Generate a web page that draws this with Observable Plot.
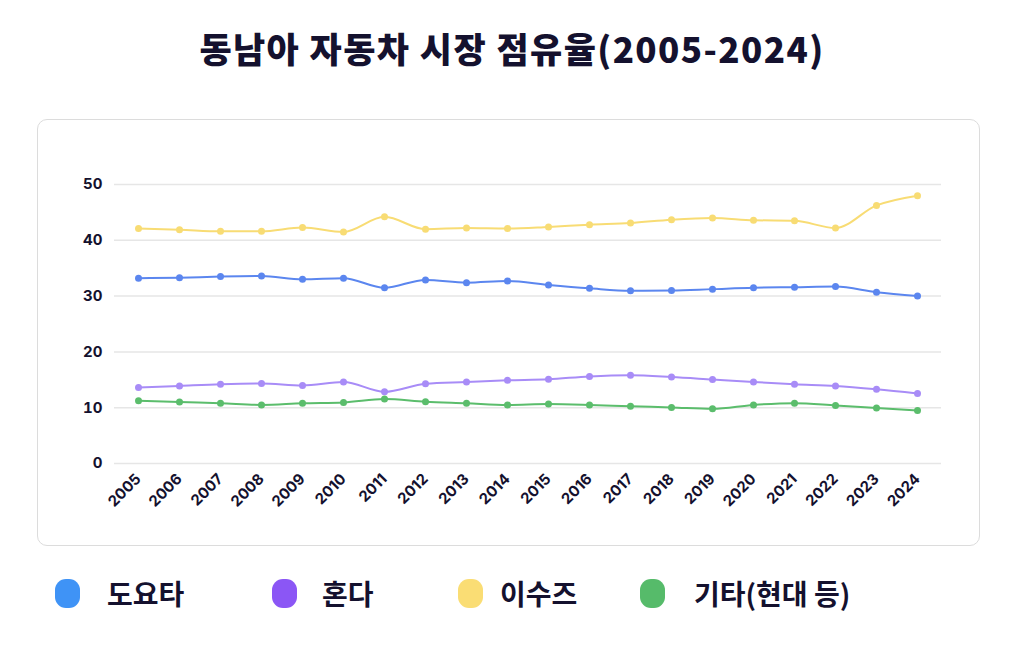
<!DOCTYPE html>
<html>
<head>
<meta charset="utf-8">
<script src="https://cdn.jsdelivr.net/npm/d3@7"></script>
<script src="https://cdn.jsdelivr.net/npm/@observablehq/plot@0.6"></script>
<style>
  html, body { margin: 0; padding: 0; background: #fff; }
  body { width: 1024px; height: 648px; position: relative; overflow: hidden;
         font-family: "Noto Sans CJK KR", "Noto Sans", sans-serif; color: #14112e; }
  #title { position: absolute; top: 23px; left: 0; width: 1024px; text-align: center;
           font-size: 35px; font-weight: 800; letter-spacing: 1.4px; line-height: 50px; }
  #card { position: absolute; left: 37px; top: 119px; width: 941px; height: 425px;
          border: 1.5px solid #dcdcdc; border-radius: 10px; background: #fff; }
  #card svg { position: absolute; left: 0; top: 0; }
  #legend { position: absolute; top: 574px; left: 0; width: 1024px; height: 38px; }
  .item { position: absolute; top: 0; display: flex; align-items: center; height: 38px;
          font-size: 28px; font-weight: 700; }
  .sw { width: 25px; height: 29px; border-radius: 11px; display: inline-block; }
</style>
</head>
<body>
<div id="title">동남아 자동차 시장 점유율(2005-2024)</div>
<div id="card"></div>
<div id="legend"></div>
<script>
const years = ["2005","2006","2007","2008","2009","2010","2011","2012","2013","2014",
               "2015","2016","2017","2018","2019","2020","2021","2022","2023","2024"];
const toyota = [33.2,33.3,33.5,33.6,33.0,33.2,31.5,32.9,32.4,32.7,32.0,31.4,30.95,31.0,31.25,31.5,31.6,31.7,30.7,30.0];
const honda  = [13.6,13.9,14.2,14.35,14.0,14.6,12.85,14.3,14.6,14.9,15.1,15.6,15.8,15.5,15.05,14.6,14.2,13.9,13.3,12.55];
const isuzu  = [42.1,41.9,41.6,41.6,42.3,41.5,44.2,42.0,42.2,42.1,42.4,42.8,43.1,43.7,44.0,43.6,43.5,42.2,46.25,48.0];
const others = [11.25,11.0,10.8,10.5,10.8,10.95,11.55,11.07,10.8,10.5,10.65,10.5,10.25,10.05,9.8,10.5,10.8,10.4,9.95,9.5];
const seriesNames = ["도요타","혼다","이수즈","기타(현대 등)"];
const lineColors = ["#5b86ef","#a88cf7","#f8dc74","#5bbd6c"];
const legendColors = ["#3f93f6","#8b56f5","#fadd74","#56bb6a"];
const yTicks = [0,10,20,30,40,50];

const seriesValues = [toyota, honda, isuzu, others];
const data = [];
seriesNames.forEach((name, i) => {
  years.forEach((yr, j) => data.push({series: name, year: yr, value: seriesValues[i][j]}));
});

const plot = Plot.plot({
  width: 941,
  height: 425,
  marginTop: 64,
  marginBottom: 82,
  marginLeft: 76,
  marginRight: 38,
  style: { fontFamily: "Inter, 'Noto Sans', sans-serif", fontSize: "14px", fontWeight: 700, color: "#14112e", background: "transparent" },
  x: { type: "point", domain: years, padding: 0.5, label: null },
  y: { domain: [0, 50], ticks: yTicks, label: null },
  color: { domain: seriesNames, range: lineColors },
  marks: [
    Plot.ruleY(yTicks, { stroke: "#e6e6e6", strokeWidth: 1.5 }),
    Plot.axisY({ ticks: yTicks, tickSize: 0, tickPadding: 12, label: null, fontSize: 15 }),
    Plot.axisX({ tickSize: 0, tickPadding: 13, tickRotate: -45, label: null, fontSize: 15 }),
    Plot.line(data, { x: "year", y: "value", z: "series", stroke: "series", strokeWidth: 2, curve: "monotone-x" }),
    Plot.dot(data, { x: "year", y: "value", fill: "series", r: 3.5 })
  ]
});
document.getElementById("card").appendChild(plot);

const legend = document.getElementById("legend");
const legendX = [55, 272, 458, 640];
const textGap = [27, 25, 17, 29];
seriesNames.forEach((name, i) => {
  const d = document.createElement("div");
  d.className = "item";
  d.style.left = legendX[i] + "px";
  const sw = document.createElement("span");
  sw.className = "sw";
  sw.style.background = legendColors[i];
  const t = document.createElement("span");
  t.textContent = name;
  t.style.marginLeft = textGap[i] + "px";
  d.appendChild(sw); d.appendChild(t);
  legend.appendChild(d);
});
</script>
</body>
</html>
